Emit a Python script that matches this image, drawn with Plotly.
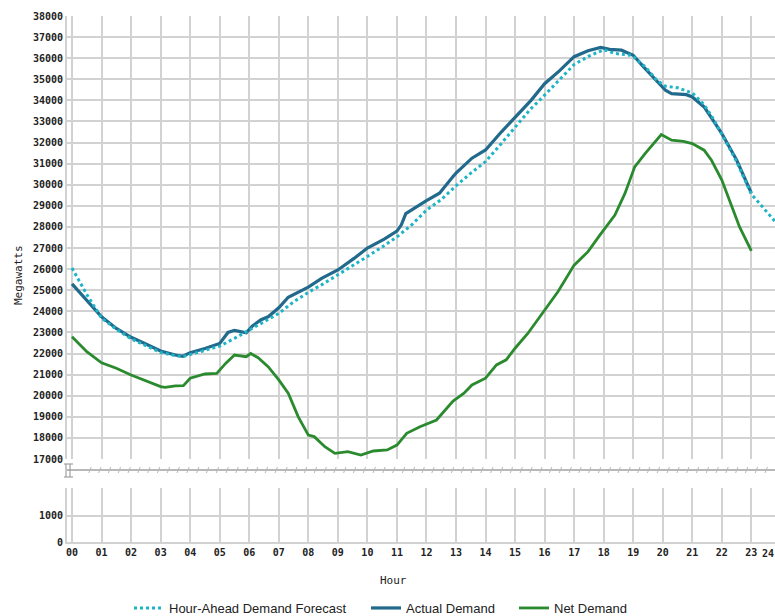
import plotly.graph_objects as go

# ---------------- data ----------------
actual_hours = [0, 0.5, 1, 1.5, 2, 2.5, 3, 3.5, 3.75, 4, 4.5, 5, 5.28, 5.5, 5.9, 6.1, 6.4, 6.64,
                7, 7.32, 8, 8.45, 9, 9.56, 10, 10.57, 11, 11.15, 11.3, 12, 12.44, 12.9, 13,
                13.54, 14, 14.54, 15, 15.54, 16, 16.5, 17, 17.47, 17.9, 18.2, 18.6, 19, 19.35,
                19.8, 20.1, 20.3, 20.8, 21, 21.4, 21.7, 22, 22.5, 23]
actual_mw = [25300, 24530, 23740, 23190, 22770, 22450, 22120, 21930, 21870, 22040, 22240, 22480,
             23000, 23100, 22980, 23300, 23600, 23740, 24170, 24670, 25150, 25560, 25960, 26520,
             27000, 27420, 27800, 28100, 28630, 29250, 29600, 30390, 30550, 31260, 31650, 32510,
             33220, 34000, 34790, 35400, 36070, 36350, 36510, 36420, 36380, 36140, 35590, 34950,
             34470, 34320, 34270, 34160, 33690, 33060, 32430, 31170, 29600]

forecast_hours = [0, 0.5, 1, 1.5, 2, 2.5, 3, 3.5, 3.75, 4, 4.5, 5, 5.5, 6, 6.2, 7, 7.5, 8, 8.5,
                  9, 9.5, 10, 10.5, 11, 11.5, 12, 12.5, 13, 13.5, 14, 14.5, 15, 15.5, 16, 16.5,
                  17, 17.5, 18, 18.4, 18.9, 19, 19.4, 19.8, 20.1, 20.5, 21, 21.4, 21.7, 22, 22.5,
                  23, 23.5, 24]
forecast_mw = [26050, 24800, 23680, 23150, 22700, 22380, 22050, 21900, 21850, 21950, 22150, 22350,
               22720, 23110, 23300, 23900, 24450, 24900, 25300, 25720, 26150, 26600, 27050, 27530,
               28100, 28800, 29300, 29950, 30550, 31100, 31900, 32750, 33550, 34250, 35000, 35700,
               36100, 36400, 36220, 36140, 36080, 35600, 34950, 34670, 34600, 34350, 33800, 33150,
               32400, 31100, 29550, 28750, 27950]

net_hours = [0, 0.5, 1, 1.5, 2, 2.5, 3, 3.15, 3.5, 3.77, 4, 4.5, 4.9, 5.2, 5.5, 5.9, 6.05, 6.3,
             6.64, 7, 7.32, 7.66, 8, 8.2, 8.56, 8.9, 9.34, 9.78, 10.2, 10.67, 11, 11.33, 11.78,
             12.34, 12.9, 13.27, 13.54, 14, 14.37, 14.7, 15, 15.43, 16, 16.45, 17, 17.47, 17.87,
             18.38, 18.72, 19.05, 19.4, 19.73, 19.95, 20.3, 20.7, 21, 21.4, 21.65, 22, 22.3,
             22.6, 23]
net_mw = [22800, 22090, 21560, 21300, 20980, 20700, 20430, 20400, 20470, 20480, 20830, 21030,
          21060, 21530, 21930, 21850, 22000, 21800, 21380, 20750, 20120, 19000, 18130, 18060,
          17580, 17270, 17350, 17190, 17380, 17430, 17660, 18220, 18530, 18850, 19750, 20120,
          20510, 20830, 21460, 21700, 22250, 22950, 24060, 24930, 26190, 26830, 27610, 28560,
          29590, 30850, 31480, 32030, 32380, 32110, 32060, 31950, 31640, 31160, 30220, 29110,
          28000, 26870]

hour_ticks = list(range(0, 24))
hour_labels = [f"{h:02d}" for h in hour_ticks]
top_ticks = list(range(17000, 38001, 1000))
bottom_ticks = [0, 1000]

# ---------------- styling / layout ----------------
W, H = 775, 616
ML, MR, MT, MB = 67, 0, 16, 74
PW, PH = W - ML - MR, H - MT - MB

def px_x(x):
    return (x - ML) / PW

def px_y(y):
    return (H - MB - y) / PH

C_ACT = "#226a8c"
C_FC = "#1cb4c6"
C_NET = "#2a8a2e"
GRID = "#d2d2d2"
TICKFONT = dict(family="DejaVu Sans Mono", size=10, color="#222222", weight="bold")
LEGFONT = dict(family="Liberation Sans", size=13, color="#222")

fig = go.Figure()
fig.add_trace(go.Scatter(x=net_hours, y=net_mw, mode="lines", name="Net Demand",
                         line=dict(color=C_NET, width=2.8), xaxis="x", yaxis="y",
                         legend="legend3"))
fig.add_trace(go.Scatter(x=actual_hours, y=actual_mw, mode="lines", name="Actual Demand",
                         line=dict(color=C_ACT, width=3.2), xaxis="x", yaxis="y",
                         legend="legend2"))
fig.add_trace(go.Scatter(x=forecast_hours, y=forecast_mw, mode="lines",
                         name="Hour-Ahead Demand Forecast",
                         line=dict(color=C_FC, width=3, dash="3px,3px"), xaxis="x", yaxis="y",
                         legend="legend"))
# an empty trace so the lower panel axes render
fig.add_trace(go.Scatter(x=[None], y=[None], xaxis="x2", yaxis="y2", showlegend=False))

xrange = [-0.17, 23.8]
top_bottom = px_y(459)
bot_top = px_y(488)

def leg(xpx):
    return dict(orientation="h", x=px_x(xpx), y=px_y(608), xanchor="left", yanchor="middle",
                font=LEGFONT, bgcolor="rgba(0,0,0,0)", itemwidth=30)

fig.update_layout(
    width=W, height=H,
    margin=dict(l=ML, r=MR, t=MT, b=MB, autoexpand=False),
    paper_bgcolor="white", plot_bgcolor="white",
    showlegend=True,
    hovermode=False,
    xaxis=dict(range=xrange, domain=[0, 1], anchor="y", tickvals=hour_ticks,
               showticklabels=False, showgrid=True, gridcolor=GRID, gridwidth=2,
               zeroline=False, ticks="", automargin=False),
    yaxis=dict(range=[17000, 38000], domain=[top_bottom, 1], anchor="x",
               tickvals=top_ticks, ticktext=[str(v) for v in top_ticks],
               tickfont=TICKFONT, showgrid=True, gridcolor=GRID, gridwidth=2,
               zeroline=False, ticks="", showline=True, linecolor=GRID, linewidth=2,
               automargin=False),
    xaxis2=dict(range=xrange, domain=[0, 1], anchor="y2", matches="x",
                tickvals=hour_ticks, ticktext=hour_labels, tickfont=TICKFONT,
                showgrid=True, gridcolor=GRID, gridwidth=2, zeroline=False, ticks="",
                showline=True, linecolor=GRID, linewidth=2, automargin=False),
    yaxis2=dict(range=[0, 2070], domain=[0, bot_top], anchor="x2",
                tickvals=bottom_ticks, ticktext=["0", "1000"], tickfont=TICKFONT,
                showgrid=True, gridcolor=GRID, gridwidth=2, zeroline=False, ticks="",
                showline=True, linecolor=GRID, linewidth=2, automargin=False),
    legend=leg(129),
    legend2=leg(366),
    legend3=leg(514),
)

annotations = [
    dict(text="Megawatts", xref="paper", yref="paper", x=px_x(18), y=px_y(275),
         textangle=-90, showarrow=False, xanchor="center", yanchor="middle",
         font=dict(family="DejaVu Sans Mono", size=11, color="#222")),
    dict(text="Hour", xref="paper", yref="paper", x=px_x(393), y=px_y(580),
         showarrow=False, xanchor="center", yanchor="middle",
         font=dict(family="DejaVu Sans Mono", size=11, color="#222")),
    dict(text="24", xref="paper", yref="paper", x=px_x(768), y=px_y(553),
         showarrow=False, xanchor="center", yanchor="middle", font=TICKFONT),
]
fig.update_layout(annotations=annotations)

# broken-axis marker
shapes = []
BRK = "#a0a0a0"
shapes.append(dict(type="line", xref="paper", yref="paper", x0=px_x(67), x1=px_x(775),
                   y0=px_y(470), y1=px_y(470), line=dict(color=BRK, width=1.5)))
for xx in (66, 70):
    shapes.append(dict(type="line", xref="paper", yref="paper", x0=px_x(xx), x1=px_x(xx),
                       y0=px_y(464), y1=px_y(477), line=dict(color=BRK, width=1.2)))
for yy in (464, 477):
    shapes.append(dict(type="line", xref="paper", yref="paper", x0=px_x(64), x1=px_x(73),
                       y0=px_y(yy), y1=px_y(yy), line=dict(color=BRK, width=1.2)))
xx = 90.0
while xx < 772:
    shapes.append(dict(type="line", xref="paper", yref="paper", x0=px_x(xx - 1.2),
                       x1=px_x(xx + 1.2), y0=px_y(473), y1=px_y(467),
                       line=dict(color="#b8b8b8", width=1)))
    xx += 9.8
fig.update_layout(shapes=shapes)

fig.write_html("out.html", config={"displayModeBar": False},
               post_script="document.body.style.margin='0';document.body.style.overflow='hidden';")
